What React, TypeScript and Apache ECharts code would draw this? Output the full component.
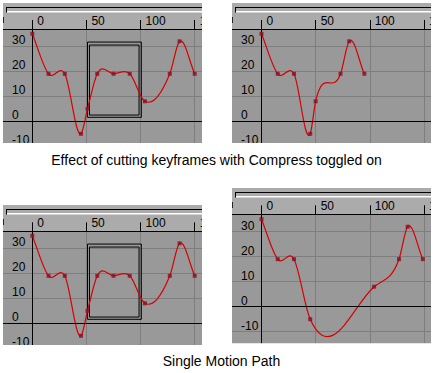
import React, { useEffect, useRef } from "react";
import * as echarts from "echarts";

// ---- data: key frames (frame number, value) ----
const fullFrames = [0, 15, 30, 45, 51, 60, 75, 90, 104, 127, 136, 150];
const fullValues = [35, 19, 19, -5, 5, 19, 19, 19, 8, 19, 32, 19];
const compressedFrames = [0, 15, 30, 45, 50, 73, 81, 95];
const compressedValues = [35, 19, 19, -5, 8, 19, 32, 19];
const motionFrames = [0, 15, 30, 45, 104, 127, 135, 149];
const motionValues = [35, 19, 19, -5, 8, 19, 32, 19];
const selectionOuter = [[51, 31.7], [100.7, 1.6]];
const selectionInner = [[52.8, 30.5], [98.6, 2.5]];
const frameTickValues = [0, 50, 100, 150];
const valueTickValues = [-10, 0, 10, 20, 30];
const captionTop = "Effect of cutting keyframes with Compress toggled on";
const captionBottom = "Single Motion Path";

// tangent (value per frame) at each key, used to shape the spline segments
function tangents(ts: number[], vs: number[]) {
  const n = ts.length;
  const m: number[] = [];
  for (let i = 0; i < n; i++) {
    if (i === 0) { m.push((vs[1] - vs[0]) / (ts[1] - ts[0])); continue; }
    if (i === n - 1) { m.push((vs[i] - vs[i - 1]) / (ts[i] - ts[i - 1])); continue; }
    const d0 = ts[i] - ts[i - 1];
    const d1 = ts[i + 1] - ts[i];
    const s0 = (vs[i] - vs[i - 1]) / d0;
    const s1 = (vs[i + 1] - vs[i]) / d1;
    const avg = (s0 + s1) / 2;
    const w = (d1 * s0 + d0 * s1) / (d0 + d1);
    m.push((avg + w) / 2);
  }
  return m;
}

const SX = 1.0827; // px per frame
const SY = 2.5; // px per value unit
const FONT = "Liberation Sans, Arial, sans-serif";

const panels = [
  { left: 3, right: 202, top: 3, ruler: 29, bottom: 143, ox: 32.3, oy: 121.3, ymin: -10, frames: fullFrames, values: fullValues, box: true },
  { left: 232, right: 431, top: 3, ruler: 29, bottom: 143, ox: 261.5, oy: 121.3, ymin: -10, frames: compressedFrames, values: compressedValues, box: false },
  { left: 3, right: 202, top: 205, ruler: 231.3, bottom: 345, ox: 32.3, oy: 323.3, ymin: -10, frames: fullFrames, values: fullValues, box: true },
  { left: 232, right: 431, top: 188, ruler: 214.3, bottom: 343.3, ox: 261.5, oy: 306.7, ymin: -20, frames: motionFrames, values: motionValues, box: false },
];

function buildOption() {
  const grid: any[] = [];
  const xAxis: any[] = [];
  const yAxis: any[] = [];
  const series: any[] = [];
  const graphic: any[] = [];

  panels.forEach((p, i) => {
    const gridLeft = p.ox - 50 * SX;
    const xmax = (p.right + 1 - p.ox) / SX;
    const ymax = (p.oy - p.ruler) / SY;
    const gridBottomY = p.oy - p.ymin * SY;
    grid.push({
      left: gridLeft,
      top: p.ruler,
      width: p.right + 1 - gridLeft,
      height: gridBottomY - p.ruler,
      show: true,
      backgroundColor: "#999999",
      borderWidth: 0,
      containLabel: false,
      outerBoundsMode: "none",
    });
    xAxis.push({
      type: "value",
      gridIndex: i,
      position: "top",
      min: -50,
      max: xmax,
      interval: 50,
      axisLine: { show: true, onZero: false, lineStyle: { color: "#000", width: 1 } },
      axisTick: { show: true, inside: false, length: 9, lineStyle: { color: "#000", width: 1 }, customValues: frameTickValues },
      axisLabel: {
        show: true,
        customValues: frameTickValues,
        formatter: (v: number) => (Math.abs(v % 50) < 1e-6 && v >= 0 ? String(v) : ""),
        align: "left",
        verticalAlign: "middle",
        margin: 8,
        padding: [0, 0, 0, 5],
        color: "#000",
        fontSize: 12,
        fontFamily: FONT,
      },
      splitLine: { show: true, lineStyle: { color: "#7e7e7e", width: 1 } },
    });
    yAxis.push({
      type: "value",
      gridIndex: i,
      position: "left",
      offset: -(p.ox - gridLeft),
      min: p.ymin,
      max: ymax,
      interval: 10,
      axisLine: { show: true, onZero: false, lineStyle: { color: "#000", width: 1 } },
      axisTick: { show: false, customValues: valueTickValues },
      axisLabel: {
        show: true,
        customValues: valueTickValues,
        formatter: (v: number) => (Math.abs(v % 10) < 1e-6 ? String(v) : ""),
        align: "left",
        verticalAlign: "bottom",
        margin: p.ox - (p.left + 9),
        color: "#000",
        fontSize: 12,
        fontFamily: FONT,
      },
      splitLine: { show: true, lineStyle: { color: "#7e7e7e", width: 1 } },
    });

    const m = tangents(p.frames, p.values);
    const segs = p.frames.slice(0, -1).map((t, k) => [t, p.values[k], p.frames[k + 1], p.values[k + 1], m[k], m[k + 1]]);
    series.push({
      type: "custom",
      xAxisIndex: i,
      yAxisIndex: i,
      silent: true,
      clip: true,
      z: 3,
      encode: { x: [0, 2], y: [1, 3] },
      data: segs,
      renderItem: (_params: any, api: any) => {
        const t0 = api.value(0), v0 = api.value(1), t1 = api.value(2), v1 = api.value(3);
        const m0 = api.value(4), m1 = api.value(5);
        const h = t1 - t0;
        const a = api.coord([t0, v0]);
        const c1 = api.coord([t0 + h / 3, v0 + (m0 * h) / 3]);
        const c2 = api.coord([t1 - h / 3, v1 - (m1 * h) / 3]);
        const b = api.coord([t1, v1]);
        return {
          type: "bezierCurve",
          shape: { x1: a[0], y1: a[1], cpx1: c1[0], cpy1: c1[1], cpx2: c2[0], cpy2: c2[1], x2: b[0], y2: b[1] },
          style: { stroke: "#d80000", lineWidth: 1.2, fill: "none" },
        };
      },
      markLine: {
        silent: true,
        symbol: ["none", "none"],
        label: { show: false },
        lineStyle: { color: "#000", width: 1, type: "solid" },
        data: [{ yAxis: 0 }],
        animation: false,
      },
    });
    const sc: any = {
      type: "scatter",
      xAxisIndex: i,
      yAxisIndex: i,
      silent: true,
      z: 4,
      symbol: "rect",
      symbolSize: 4,
      itemStyle: { color: "#8a0c24" },
      data: p.frames.map((t, k) => [t, p.values[k]]),
    };
    if (p.box) {
      sc.markArea = {
        silent: true,
        label: { show: false },
        itemStyle: { color: "rgba(0,0,0,0)", borderColor: "#000", borderWidth: 1 },
        data: [
          [{ coord: selectionOuter[0] }, { coord: selectionOuter[1] }],
          [{ coord: selectionInner[0] }, { coord: selectionInner[1] }],
        ],
      };
    }
    series.push(sc);

    // ruler strip
    graphic.push({
      type: "rect", z: -1, silent: true,
      shape: { x: p.left, y: p.top, width: p.right - p.left, height: p.ruler - p.top },
      style: { fill: "#ababab" },
    });
    graphic.push({
      type: "line", z: 1, silent: true,
      shape: { x1: p.left + 3, y1: p.top + 4.5, x2: p.right, y2: p.top + 4.5 },
      style: { stroke: "#000", lineWidth: 1 },
    });
    graphic.push({
      type: "line", z: 1, silent: true,
      shape: { x1: p.left + 4, y1: p.top + 8.7, x2: p.right, y2: p.top + 8.7 },
      style: { stroke: "#fff", lineWidth: 1.5 },
    });
    graphic.push({
      type: "line", z: 1, silent: true,
      shape: { x1: p.left + 3.5, y1: p.top + 4, x2: p.left + 3.5, y2: p.top + 9.5 },
      style: { stroke: "#000", lineWidth: 1 },
    });
    graphic.push({
      type: "line", z: 1, silent: true,
      shape: { x1: p.left + 0.5, y1: p.top + 14, x2: p.left + 0.5, y2: p.top + 20 },
      style: { stroke: "#222", lineWidth: 1 },
    });
  });

  // white covers around panels
  const covers = [
    [0, 0, 433, 3],
    [0, 0, 3, 373],
    [202, 0, 30, 373],
    [431, 0, 2, 373],
    [0, 143, 202, 62],
    [232, 143, 201, 45],
    [0, 345, 202, 28],
    [232, 343.3, 201, 30],
  ];
  covers.forEach(([x, y, w, h]) => {
    graphic.push({ type: "rect", z: 100, silent: true, shape: { x, y, width: w, height: h }, style: { fill: "#ffffff" } });
  });
  graphic.push({
    type: "text", z: 200, silent: true, x: 216.5, y: 160,
    style: { text: captionTop, fill: "#000", font: `14px ${FONT}`, textAlign: "center", textVerticalAlign: "middle" },
  });
  graphic.push({
    type: "text", z: 200, silent: true, x: 221.5, y: 361,
    style: { text: captionBottom, fill: "#000", font: `14px ${FONT}`, textAlign: "center", textVerticalAlign: "middle" },
  });

  return {
    animation: false,
    backgroundColor: "#ffffff",
    grid,
    xAxis,
    yAxis,
    series,
    graphic: { elements: graphic },
  };
}

export default function App() {
  const ref = useRef<HTMLDivElement>(null);
  useEffect(() => {
    if (!ref.current) return;
    const chart = echarts.init(ref.current, null, { renderer: "svg", width: 433, height: 373 });
    chart.setOption(buildOption() as any);
    return () => chart.dispose();
  }, []);
  return (
    <div
      ref={ref}
      style={{ position: "absolute", left: 0, top: 0, width: 433, height: 373, background: "#fff" }}
    />
  );
}
